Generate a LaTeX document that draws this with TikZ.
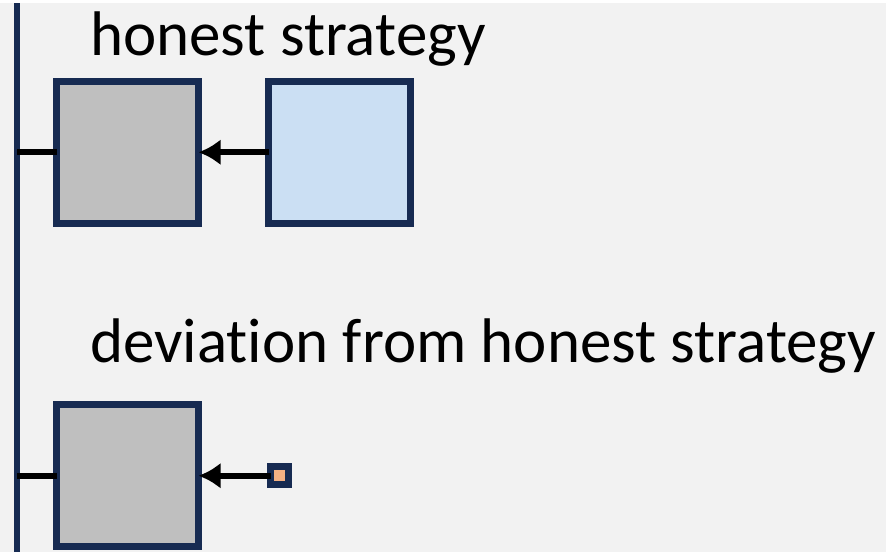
\documentclass[tikz,border=0pt]{standalone}
\usepackage{fontspec}
\setmainfont[Ligatures=NoCommon]{Carlito}
\usetikzlibrary{arrows.meta,positioning}

\definecolor{framenavy}{HTML}{172B52}
\definecolor{boxgray}{HTML}{BFBFBF}
\definecolor{boxblue}{HTML}{CBDFF3}
\definecolor{tokenorange}{HTML}{F4B183}
\definecolor{pagegray}{HTML}{F2F2F2}

\begin{document}
\begin{tikzpicture}[
    x=1pt, y=-1pt,
    node distance=70pt,
    >={Latex[length=22pt,width=26pt]},
    every node/.style={font=\fontsize{63}{70}\selectfont},
    block/.style={
        rectangle,
        draw=framenavy,
        line width=7pt,
        minimum size=142pt,
        inner sep=0pt,
        outer sep=0pt
    },
    token/.style={
        rectangle,
        draw=framenavy,
        fill=tokenorange,
        line width=7pt,
        minimum size=18pt,
        inner sep=0pt,
        outer sep=0pt
    },
    caption/.style={anchor=base west, inner sep=0pt},
    rail/.style={draw=framenavy, line width=6.5pt},
    link/.style={draw=black, line width=6.5pt},
    flow/.style={->, draw=black, line width=6.5pt}
]

% page
\path[fill=pagegray] (0,0) rectangle (886,549);

\coordinate (railtop) at (17,0);
\coordinate (railbot) at (17,549);
\draw[rail] (railtop) -- (railbot);

% honest strategy
\node[caption] (honestlabel) at (90,52) {honest strategy};
\node[block, fill=boxgray] (chain) at (127.5,149) {};
\node[block, fill=boxblue, right=of chain] (honest) {};

\draw[link] (chain.west -| railtop) -- (chain.west);
\draw[flow] (honest) -- (chain);

% deviation
\node[caption] (devlabel) at (90,359) {deviation from honest strategy};
\node[block, fill=boxgray] (devchain) at (127.5,472.5) {};
\node[token, right=72pt of devchain] (devtoken) {};

\draw[link] (devchain.west -| railtop) -- (devchain.west);
\draw[flow] (devtoken) -- (devchain);

\end{tikzpicture}
\end{document}
